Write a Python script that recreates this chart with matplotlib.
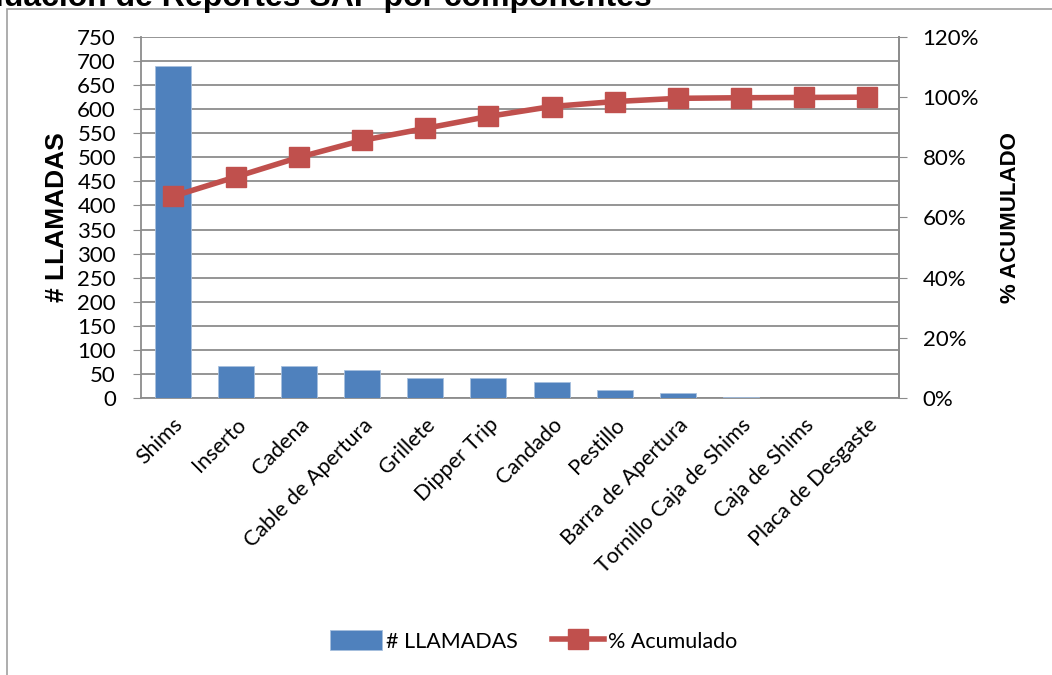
import numpy as np
import matplotlib
matplotlib.use("Agg")
import matplotlib.pyplot as plt
from matplotlib.patches import Rectangle
from matplotlib.ticker import FuncFormatter, MultipleLocator

# llamadas por componente (Pareto)
componentes = ["Shims", "Inserto", "Cadena", "Cable de Apertura", "Grillete",
               "Dipper Trip", "Candado", "Pestillo", "Barra de Apertura",
               "Tornillo Caja de Shims", "Caja de Shims", "Placa de Desgaste"]
llamadas = [690, 67, 67, 58, 41, 41, 34, 17, 11, 2, 1, 1]

acumulado = np.cumsum(llamadas) / np.sum(llamadas)

plt.rcParams['font.family'] = ['Lato', 'DejaVu Sans']
BLUE = "#4F81BD"
RED = "#C0504D"
GRID = "#8C8C8C"

W, H = 1052, 675
fig = plt.figure(figsize=(W / 100, H / 100), dpi=100)

# marco exterior del grafico (recortado arriba/derecha/abajo)
fig.patches.append(Rectangle((7 / W, -0.05), 1.1, 1 - 9 / H + 0.05,
                             transform=fig.transFigure, fill=False,
                             edgecolor="#A0A0A0", linewidth=1.2))

fig.text(652 / W, 1 - 6 / H, "Evaluación de Reportes SAP por componentes",
         ha="right", va="baseline", fontsize=23, fontweight="bold",
         family="Liberation Sans")

ax = fig.add_axes([141 / W, 1 - 398 / H, 758 / W, 361 / H])
x = np.arange(len(componentes))
bars = ax.bar(x, llamadas, width=0.57, color=BLUE, edgecolor="#A7C0DE",
              linewidth=0.6, zorder=3, label="# LLAMADAS")
ax.set_xlim(-0.5, len(componentes) - 0.5)
ax.set_ylim(0, 750)
ax.yaxis.set_major_locator(MultipleLocator(50))
ax.grid(axis="y", color=GRID, linewidth=1.3, zorder=0)
ax.set_axisbelow(True)
ax.spines["top"].set_visible(False)
for s in ["left", "bottom", "right"]:
    ax.spines[s].set_color(GRID)
    ax.spines[s].set_linewidth(1.3)
ax.tick_params(axis="y", length=6, color=GRID, labelsize=16, pad=12)
ax.tick_params(axis="x", length=0, labelsize=15.5, pad=12)
ax.set_xticks(x)
ax.set_xticklabels(componentes, rotation=45, ha="right", rotation_mode="anchor")
ax.set_ylabel("# LLAMADAS", fontsize=19, fontweight="bold",
              family="Liberation Sans", labelpad=6)

ax2 = ax.twinx()
line, = ax2.plot(x, acumulado, color=RED, linewidth=4, marker="s",
                 markersize=14, markerfacecolor=RED, markeredgecolor=RED,
                 zorder=4, label="% Acumulado")
ax2.set_ylim(0, 1.2)
ax2.yaxis.set_major_locator(MultipleLocator(0.2))
ax2.yaxis.set_major_formatter(FuncFormatter(lambda v, p: f"{v * 100:.0f}%"))
ax2.tick_params(axis="y", length=6, color=GRID, labelsize=16, pad=11)
for s in ["top", "left", "bottom"]:
    ax2.spines[s].set_visible(False)
ax2.spines["right"].set_color(GRID)
ax2.spines["right"].set_linewidth(1.3)
ax2.set_ylabel("% ACUMULADO", fontsize=16, fontweight="bold",
               family="Liberation Sans", labelpad=15)

fig.legend([bars, line], ["# LLAMADAS", "% Acumulado"], loc="center",
           bbox_to_anchor=(534 / W, 1 - 641 / H), ncol=2, frameon=False,
           fontsize=15.5, handlelength=2.4, handleheight=1.0, columnspacing=1.6,
           handletextpad=0.2)

fig.savefig("out.png", dpi=100)
